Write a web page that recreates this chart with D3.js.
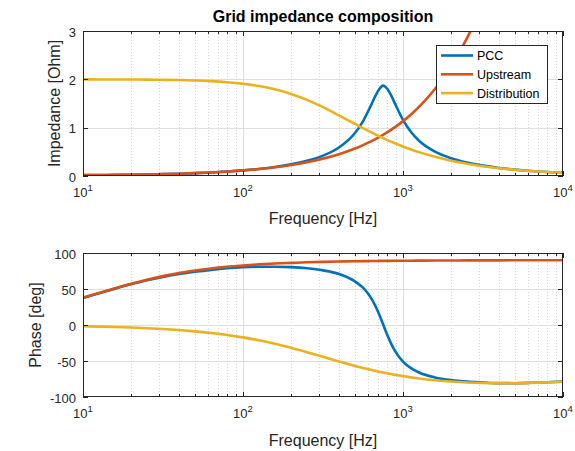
<!DOCTYPE html>
<html>
<head>
<meta charset="utf-8">
<script src="https://cdn.jsdelivr.net/npm/d3@7"></script>
<style>
  html, body { margin: 0; padding: 0; background: #fff; }
  svg { display: block; font-family: "Liberation Sans", Arial, Helvetica, sans-serif; }
</style>
</head>
<body>
<svg id="chart" width="575" height="451"></svg>
<script>
// Frequency grid [Hz]
const freq = [10, 12.59, 15.85, 19.95, 25.12, 31.62, 39.81, 50.12, 63.10, 79.43,
  100, 125.9, 158.5, 199.5, 251.2, 316.2, 398.1, 501.2, 562.3, 631.0,
  668.3, 708.0, 749.9, 794.3, 841.4, 891.3, 1000, 1122, 1259, 1585,
  1995, 2512, 3162, 3981, 5012, 6310, 7943, 10000];

// Impedance magnitude [Ohm]
const pccMag = [0.0184, 0.0203, 0.0230, 0.0268, 0.0318, 0.0385, 0.0473, 0.0586, 0.0730, 0.0916,
  0.1155, 0.1463, 0.1866, 0.2403, 0.3143, 0.4216, 0.5902, 0.8889, 1.1322, 1.4623,
  1.6418, 1.7902, 1.8700, 1.8110, 1.6746, 1.4975, 1.1605, 0.9090, 0.7304, 0.5035,
  0.3677, 0.2777, 0.2140, 0.1669, 0.1313, 0.1038, 0.0825, 0.0658];
const upstreamMag = [0.0185, 0.0204, 0.0232, 0.0270, 0.0320, 0.0388, 0.0475, 0.0588, 0.0731, 0.0914,
  0.1145, 0.1437, 0.1805, 0.2270, 0.2856, 0.3594, 0.4523, 0.5692, 0.6387, 0.7165,
  0.7590, 0.8039, 0.8517, 0.9020, 0.9554, 1.0120, 1.1355, 1.2740, 1.4295, 1.7996,
  2.2655, 2.8520, 3.5905, 4.5201, 5.6905, 7.1639, 9.0188, 11.354];
const distributionMag = [1.999, 1.998, 1.998, 1.996, 1.994, 1.990, 1.985, 1.976, 1.962, 1.941,
  1.909, 1.862, 1.793, 1.698, 1.574, 1.424, 1.254, 1.078, 0.990, 0.906,
  0.865, 0.825, 0.786, 0.748, 0.712, 0.677, 0.611, 0.549, 0.494, 0.397,
  0.317, 0.253, 0.202, 0.161, 0.128, 0.102, 0.082, 0.065];

// Phase [deg]
const pccPhase = [37.5, 44.0, 50.4, 56.5, 62.1, 66.8, 70.8, 73.9, 76.4, 78.8,
  80.2, 80.9, 81.0, 80.4, 78.8, 75.9, 70.8, 60.5, 51.8, 37.7,
  27.6, 15.3, 1.3, -12.8, -25.5, -36.0, -50.9, -60.0, -65.9, -72.8,
  -76.6, -78.7, -79.8, -80.7, -80.8, -80.3, -79.5, -78.6];
const upstreamPhase = [37.9, 44.4, 50.9, 57.2, 62.9, 67.9, 72.1, 75.6, 78.5, 80.8,
  82.7, 84.2, 85.4, 86.3, 87.1, 87.7, 88.2, 88.5, 88.7, 88.8,
  88.9, 89.0, 89.0, 89.1, 89.1, 89.2, 89.3, 89.3, 89.4, 89.5,
  89.6, 89.7, 89.8, 89.8, 89.9, 89.9, 89.9, 89.9];
const distributionPhase = [-1.8, -2.2, -2.8, -3.5, -4.5, -5.6, -7.0, -8.8, -11.1, -13.8,
  -17.2, -21.3, -26.1, -31.7, -37.8, -44.2, -50.7, -56.8, -59.6, -62.3,
  -63.6, -64.8, -66.0, -67.1, -68.1, -69.2, -71.0, -72.7, -74.2, -76.7,
  -78.5, -79.8, -80.6, -81.0, -80.9, -80.4, -79.6, -78.7];

const seriesNames = ["PCC", "Upstream", "Distribution"];
const seriesColors = ["#0072BD", "#D95319", "#EDB120"];

const magTicks = [0, 1, 2, 3];
const phaseTicks = [-100, -50, 0, 50, 100];
const decadeTicks = [10, 100, 1000, 10000];

const svg = d3.select("#chart");
const ink = "#262626";

const x = d3.scaleLog().domain([10, 1e4]).range([83, 563]);

// minor log ticks: 2..9 within each decade
const minorTicks = [];
[10, 100, 1000].forEach(d => { for (let k = 2; k <= 9; k++) minorTicks.push(d * k); });

function panel(id, yDomain, yRange, yTicks, series, yLabel, yLabelX, xLabelY) {
  const y = d3.scaleLinear().domain(yDomain).range(yRange);
  const [x0, x1] = x.range();
  const yb = yRange[0], yt = yRange[1];
  const g = svg.append("g");

  g.append("rect").attr("x", x0).attr("y", yt).attr("width", x1 - x0).attr("height", yb - yt)
    .attr("fill", "#fff");

  // grid
  g.append("g").selectAll("line").data(minorTicks).join("line")
    .attr("x1", d => Math.round(x(d)) + 0.5).attr("x2", d => Math.round(x(d)) + 0.5)
    .attr("y1", yt).attr("y2", yb)
    .attr("stroke", "#d6d6d6").attr("stroke-width", 1).attr("stroke-dasharray", "1,2");
  g.append("g").selectAll("line").data(decadeTicks.slice(1, -1)).join("line")
    .attr("x1", d => Math.round(x(d)) + 0.5).attr("x2", d => Math.round(x(d)) + 0.5)
    .attr("y1", yt).attr("y2", yb)
    .attr("stroke", "#dedede").attr("stroke-width", 1);
  g.append("g").selectAll("line").data(yTicks.slice(1, -1)).join("line")
    .attr("x1", x0).attr("x2", x1)
    .attr("y1", d => Math.round(y(d)) + 0.5).attr("y2", d => Math.round(y(d)) + 0.5)
    .attr("stroke", "#dedede").attr("stroke-width", 1);

  // curves
  const clipId = "clip-" + id;
  svg.append("clipPath").attr("id", clipId).append("rect")
    .attr("x", x0).attr("y", yt).attr("width", x1 - x0).attr("height", yb - yt);
  const line = d3.line().x((d, i) => x(freq[i])).y(d => y(d)).curve(d3.curveMonotoneX);
  const cg = g.append("g").attr("clip-path", `url(#${clipId})`);
  series.forEach((vals, k) => {
    cg.append("path").attr("d", line(vals)).attr("fill", "none")
      .attr("stroke", seriesColors[k]).attr("stroke-width", 2.6)
      .attr("stroke-linejoin", "round").attr("stroke-linecap", "butt");
  });

  // box
  g.append("rect").attr("x", x0 + 0.5).attr("y", yt + 0.5)
    .attr("width", x1 - x0 - 1).attr("height", yb - yt - 1)
    .attr("fill", "none").attr("stroke", ink).attr("stroke-width", 1);

  // ticks (inward, mirrored on opposite edges)
  const tk = g.append("g").attr("stroke", ink).attr("stroke-width", 1);
  decadeTicks.forEach(d => {
    const xx = Math.round(x(d)) + 0.5;
    tk.append("line").attr("x1", xx).attr("x2", xx).attr("y1", yb).attr("y2", yb - 5);
    tk.append("line").attr("x1", xx).attr("x2", xx).attr("y1", yt).attr("y2", yt + 5);
  });
  minorTicks.forEach(d => {
    const xx = Math.round(x(d)) + 0.5;
    tk.append("line").attr("x1", xx).attr("x2", xx).attr("y1", yb).attr("y2", yb - 3);
    tk.append("line").attr("x1", xx).attr("x2", xx).attr("y1", yt).attr("y2", yt + 3);
  });
  yTicks.forEach(d => {
    const yy = Math.round(y(d)) + 0.5;
    tk.append("line").attr("x1", x0).attr("x2", x0 + 5).attr("y1", yy).attr("y2", yy);
    tk.append("line").attr("x1", x1).attr("x2", x1 - 5).attr("y1", yy).attr("y2", yy);
  });

  // tick labels
  g.append("g").selectAll("text").data(yTicks).join("text")
    .attr("x", x0 - 7).attr("y", d => y(d) + 5.5)
    .attr("text-anchor", "end").attr("font-size", 13).attr("fill", ink)
    .text(d => d);
  decadeTicks.forEach(d => {
    const t = g.append("text").attr("x", x(d)).attr("y", yb + 21)
      .attr("text-anchor", "middle").attr("font-size", 13).attr("fill", ink);
    t.append("tspan").text("10");
    t.append("tspan").attr("dy", -6).attr("font-size", 9.5).text(Math.round(Math.log10(d)));
  });

  // axis labels
  g.append("text").attr("x", (x0 + x1) / 2).attr("y", xLabelY)
    .attr("text-anchor", "middle").attr("font-size", 16).attr("fill", ink)
    .text("Frequency [Hz]");
  g.append("text").attr("transform", `translate(${yLabelX},${(yt + yb) / 2}) rotate(-90)`)
    .attr("dy", "0.35em").attr("text-anchor", "middle").attr("font-size", 16).attr("fill", ink)
    .text(yLabel);
  return { g, y };
}

panel("mag", [0, 3], [176, 31], magTicks,
  [pccMag, upstreamMag, distributionMag], "Impedance [Ohm]", 54, 224);
panel("phase", [-100, 100], [397, 253], phaseTicks,
  [pccPhase, upstreamPhase, distributionPhase], "Phase [deg]", 35, 446);

// title
svg.append("text").attr("x", 323).attr("y", 22).attr("text-anchor", "middle")
  .attr("font-size", 16).attr("font-weight", "bold").attr("fill", "#000")
  .text("Grid impedance composition");

// legend
const lg = svg.append("g");
lg.append("rect").attr("x", 436.5).attr("y", 45.5).attr("width", 111).attr("height", 58)
  .attr("fill", "#fff").attr("stroke", ink).attr("stroke-width", 1);
seriesNames.forEach((name, k) => {
  const yy = 55.5 + k * 18.8;
  lg.append("line").attr("x1", 441).attr("x2", 473).attr("y1", yy).attr("y2", yy)
    .attr("stroke", seriesColors[k]).attr("stroke-width", 2.6);
  lg.append("text").attr("x", 477).attr("y", yy + 4.5).attr("font-size", 12.5).attr("fill", "#000")
    .text(name);
});
</script>
</body>
</html>
